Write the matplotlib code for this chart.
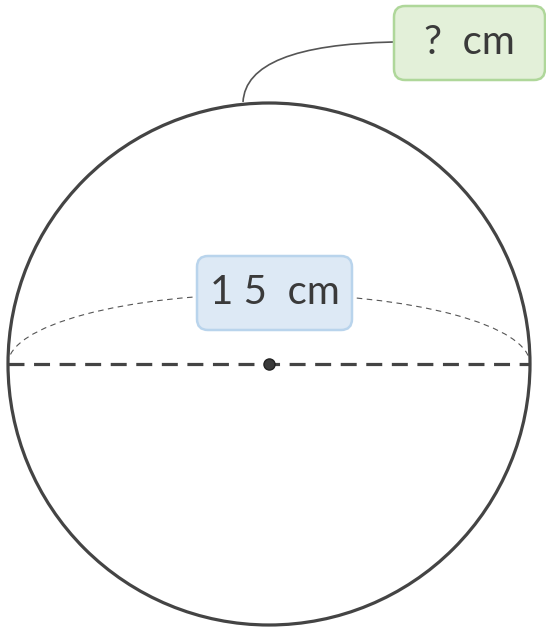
import numpy as np
import matplotlib.pyplot as plt
from matplotlib.patches import Circle, Arc, FancyBboxPatch
from matplotlib.path import Path
from matplotlib.patches import PathPatch

# diagram values
diameter_label = "1 5  cm"
unknown_label = "?  cm"

W, H = 546, 628
fig = plt.figure(figsize=(W / 100, H / 100), dpi=100)
ax = fig.add_axes([0, 0, 1, 1])
ax.set_xlim(0, W)
ax.set_ylim(H, 0)
ax.set_aspect("equal")
ax.axis("off")

cx, cy, r = 269, 364, 261
ink = "#444444"

# sphere outline
ax.add_patch(Circle((cx, cy), r, fill=False, edgecolor=ink, lw=2.3, zorder=3))

# back half of the equator (thin dashes)
ax.add_patch(Arc((cx, cy), 2 * r, 140, theta1=180, theta2=360, edgecolor="#555555",
                 lw=0.8, linestyle=(0, (5, 4)), zorder=2))

# diameter
ax.plot([cx - r, cx + r], [cy, cy], color=ink, lw=2.3, linestyle=(0, (5, 3)), zorder=3)
ax.plot(cx, cy, "o", ms=8, mfc="#3a3a3a", mec="#222222", mew=1, zorder=4)

# leader line to the question box
verts = [(243, 102), (246, 45), (393, 42)]
ax.add_patch(PathPatch(Path(verts, [Path.MOVETO, Path.CURVE3, Path.CURVE3]),
                       fill=False, edgecolor="#555555", lw=1.2, zorder=2))

def label_box(x0, y0, w, h, text, face, edge):
    ax.add_patch(FancyBboxPatch((x0, y0), w, h, boxstyle="round,pad=0,rounding_size=11",
                                facecolor=face, edgecolor=edge, lw=1.8, zorder=5))
    ax.text(x0 + w / 2, y0 + h / 2, text, ha="center", va="center", fontsize=29,
            color="#3a3a3a", family="Lato", zorder=6)

label_box(197, 256, 155, 74, diameter_label, "#dde9f5", "#b9d4ec")
label_box(394, 6, 151, 74, unknown_label, "#e3f0d9", "#afd79a")

fig.savefig("out.png", dpi=100)
